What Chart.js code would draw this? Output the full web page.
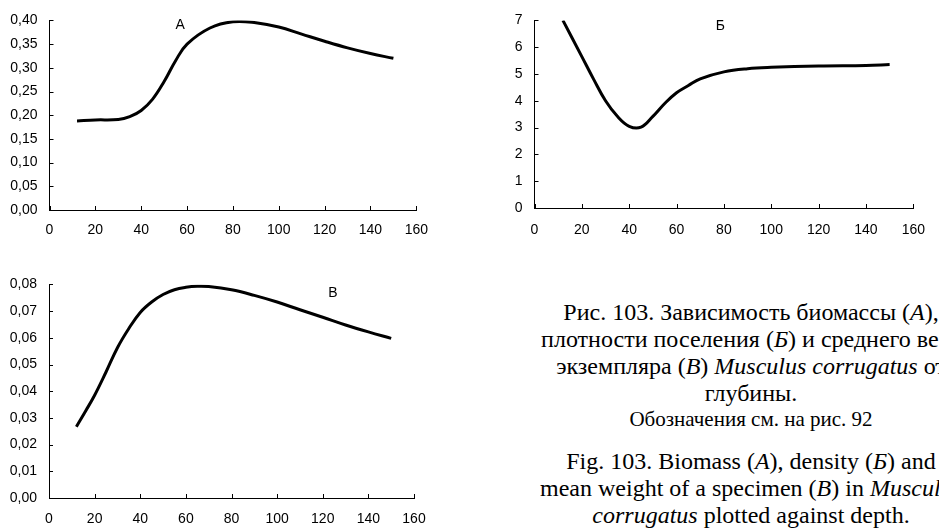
<!DOCTYPE html>
<html>
<head>
<meta charset="utf-8">
<script src="https://cdn.jsdelivr.net/npm/chart.js@4.4.0/dist/chart.umd.min.js"></script>
<style>
  html, body { margin: 0; padding: 0; background: #fff; }
  body { width: 939px; height: 528px; position: relative; overflow: hidden; }
  canvas { position: absolute; }
  #chartA { left: 0; top: 0; }
  #chartB { left: 480px; top: 0; }
  #chartC { left: 0; top: 264px; }
  .caption {
    position: absolute; left: 451px; width: 600px; text-align: center;
    font-family: "Liberation Serif", "Times New Roman", serif; font-size: 24px;
    color: #000; white-space: nowrap; line-height: 1;
  }
  .caption.small { font-size: 21px; }
</style>
</head>
<body>
<canvas id="chartA" width="440" height="250"></canvas>
<canvas id="chartB" width="459" height="250"></canvas>
<canvas id="chartC" width="440" height="264"></canvas>

<div class="caption" style="top:300px">Рис. 103. Зависимость биомассы (<i>А</i>),</div>
<div class="caption" style="top:327px">плотности поселения (<i>Б</i>) и среднего веса</div>
<div class="caption" style="top:354px">экземпляра (<i>В</i>) <i>Musculus corrugatus</i> от</div>
<div class="caption" style="top:381px">глубины.</div>
<div class="caption small" style="top:409px">Обозначения см. на рис. 92</div>
<div class="caption" style="top:449px">Fig. 103. Biomass (<i>A</i>), density (<i>Б</i>) and</div>
<div class="caption" style="top:476px">mean weight of a specimen (<i>B</i>) in <i>Musculus</i></div>
<div class="caption" style="top:503px"><i>corrugatus</i> plotted against depth.</div>

<script>
// depth, m
const depthA = [12, 20, 30, 35, 40, 45, 50, 55, 60, 70, 80, 90, 100, 110, 120, 130, 140, 150];
const biomass = [0.188, 0.190, 0.191, 0.197, 0.210, 0.234, 0.271, 0.315, 0.350, 0.384, 0.397, 0.395, 0.386, 0.371, 0.356, 0.342, 0.330, 0.320];

const depthB = [12, 20, 25, 30, 35, 40, 45, 50, 55, 60, 65, 70, 80, 90, 100, 120, 140, 150];
const density = [7.0, 5.65, 4.8, 4.0, 3.42, 3.05, 3.02, 3.42, 3.9, 4.3, 4.57, 4.82, 5.08, 5.2, 5.25, 5.3, 5.32, 5.35];

const depthC = [12, 16, 20, 25, 30, 35, 40, 45, 50, 55, 60, 65, 70, 80, 90, 100, 110, 120, 130, 140, 150];
const meanWeight = [0.0267, 0.0325, 0.0385, 0.0472, 0.0563, 0.0635, 0.0695, 0.0734, 0.0762, 0.0780, 0.0789, 0.0793, 0.0792, 0.0780, 0.0759, 0.0734, 0.0705, 0.0677, 0.0648, 0.0622, 0.0598];

const xTicks = [0, 20, 40, 60, 80, 100, 120, 140, 160];

const tickFont = { family: '"Liberation Sans", Arial, sans-serif', size: 14 };

// ticks drawn inside the plot, as in the original figure + panel letter
const innerTicks = {
  id: 'innerTicks',
  afterDraw(chart, args, opts) {
    const { ctx, chartArea } = chart;
    const x = chart.scales.x, y = chart.scales.y;
    ctx.save();
    ctx.strokeStyle = '#000';
    ctx.lineWidth = 1;
    ctx.beginPath();
    x.ticks.forEach(t => {
      const px = Math.round(x.getPixelForValue(t.value)) + 0.5;
      ctx.moveTo(px, chartArea.bottom);
      ctx.lineTo(px, chartArea.bottom - 4);
    });
    y.ticks.forEach(t => {
      const py = Math.round(y.getPixelForValue(t.value)) + 0.5;
      ctx.moveTo(chartArea.left, py);
      ctx.lineTo(chartArea.left + 4, py);
    });
    ctx.stroke();
    ctx.fillStyle = '#000';
    ctx.font = '14px "Liberation Sans", Arial, sans-serif';
    ctx.textAlign = 'center';
    ctx.textBaseline = 'middle';
    ctx.fillText(opts.text, x.getPixelForValue(opts.x), y.getPixelForValue(opts.y));
    ctx.restore();
  }
};

function makeChart(id, xs, ys, yMax, yStep, decimals, box, letter) {
  const points = xs.map((v, i) => ({ x: v, y: ys[i] }));
  return new Chart(document.getElementById(id), {
    type: 'line',
    data: {
      datasets: [{
        data: points,
        borderColor: '#000',
        borderWidth: 3,
        pointRadius: 0,
        tension: 0.4,
        fill: false
      }]
    },
    options: {
      responsive: false,
      animation: false,
      layout: { padding: box.padding },
      plugins: {
        legend: { display: false },
        tooltip: { enabled: false },
        innerTicks: letter
      },
      scales: {
        x: {
          type: 'linear',
          min: 0, max: 160,
          afterBuildTicks: s => { s.ticks = xTicks.map(v => ({ value: v })); },
          afterFit: s => { s.height = box.xHeight; },
          grid: { display: false, drawTicks: false },
          border: { display: true, color: '#000', width: 1 },
          ticks: { color: '#000', font: tickFont, padding: box.xPad, maxRotation: 0 }
        },
        y: {
          min: 0, max: yMax,
          ticks: {
            stepSize: yStep, color: '#000', font: tickFont, padding: box.yPad,
            callback: v => Number(v).toFixed(decimals).replace('.', ',')
          },
          afterFit: s => { s.width = box.yWidth; },
          grid: { display: false, drawTicks: false },
          border: { display: true, color: '#000', width: 1 }
        }
      }
    },
    plugins: [innerTicks]
  });
}

makeChart('chartA', depthA, biomass, 0.40, 0.05, 2,
  { padding: { top: 17, right: 17, left: 0, bottom: 0 }, xHeight: 40, yWidth: 49.5, xPad: 12, yPad: 12 },
  { text: 'А', x: 57, y: 0.389 });

makeChart('chartB', depthB, density, 7, 1, 0,
  { padding: { top: 17, right: 13, left: 0, bottom: 0 }, xHeight: 42, yWidth: 54.5, xPad: 14, yPad: 12 },
  { text: 'Б', x: 78.5, y: 6.8 });

makeChart('chartC', depthC, meanWeight, 0.08, 0.01, 2,
  { padding: { top: 20, right: 26, left: 0, bottom: 0 }, xHeight: 30, yWidth: 49, xPad: 13, yPad: 12 },
  { text: 'В', x: 124.5, y: 0.0769 });
</script>
</body>
</html>
